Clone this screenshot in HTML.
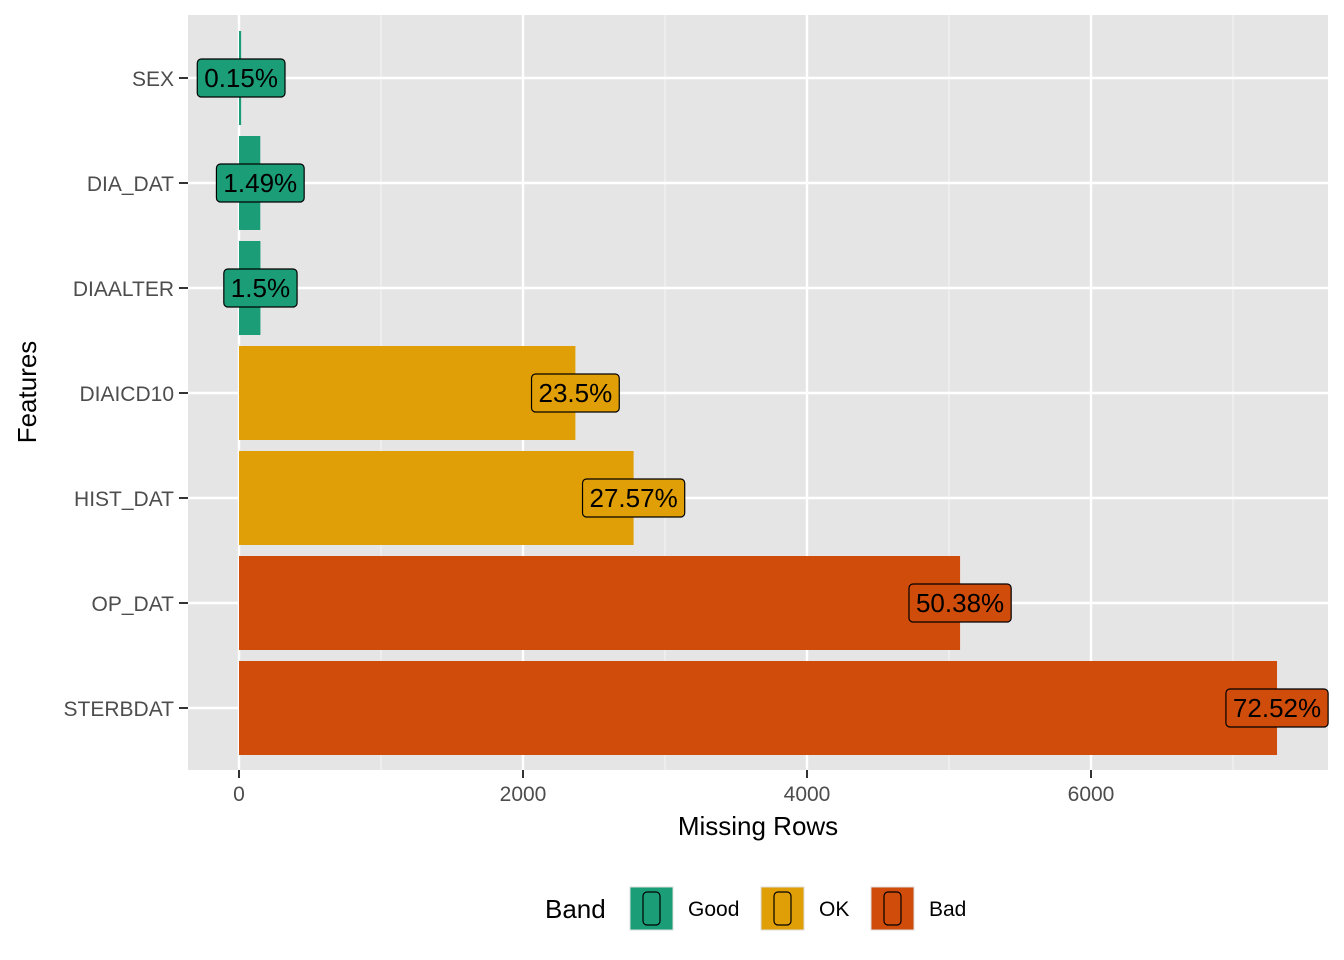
<!DOCTYPE html>
<html><head><meta charset="utf-8"><style>body{margin:0;background:#fff}svg{display:block;font-family:"Liberation Sans",Arial,sans-serif}</style></head>
<body>
<svg id="chart" width="1344" height="960"></svg>
<script>
const categories=["SEX","DIA_DAT","DIAALTER","DIAICD10","HIST_DAT","OP_DAT","STERBDAT"];
const values=[15,150,151,2369,2779,5078,7310];
const pctLabels=["0.15%","1.49%","1.5%","23.5%","27.57%","50.38%","72.52%"];
const bands=["Good","Good","Good","OK","OK","Bad","Bad"];
const xTicks=[0,2000,4000,6000];
const xMinor=[1000,3000,5000,7000];
const bandNames=["Good","OK","Bad"];
const colors={Good:"#1b9e77",OK:"#e09f06",Bad:"#d04c0b"};
const NS="http://www.w3.org/2000/svg";
const svg=document.getElementById("chart");
const L=188,R=1328,T=15,B=770;
const x=v=>239+v*0.142;
const y=i=>78+i*105;
function mk(t,a,p){const e=document.createElementNS(NS,t);for(const k in a)e.setAttribute(k,a[k]);(p||svg).appendChild(e);return e;}
const panel=mk("rect",{x:L,y:T,width:R-L,height:B-T,fill:"#e5e5e5"});


xMinor.forEach(v=>mk("line",{x1:x(v),x2:x(v),y1:T,y2:B,stroke:"#f2f2f2","stroke-width":1.2}));
xTicks.forEach(v=>{const g=mk("line",{x1:x(v),x2:x(v),y1:T,y2:B,stroke:"#fff","stroke-width":2.4});

});
categories.forEach((c,i)=>mk("line",{x1:L,x2:R,y1:y(i),y2:y(i),stroke:"#fff","stroke-width":2.4}));
categories.forEach((c,i)=>{
 const b=mk("rect",{x:x(0),y:y(i)-47,width:x(values[i])-x(0),height:94,fill:colors[bands[i]]});
 
 
});
categories.forEach((c,i)=>{
 const g=mk("g",{});
 
 
 const t=mk("text",{x:x(values[i]),y:y(i)+9,"text-anchor":"middle","font-size":26,fill:"#000"},g);
 t.textContent=pctLabels[i];
 const w=t.getComputedTextLength()+14;
 const r=mk("rect",{x:x(values[i])-w/2,y:y(i)-19,width:w,height:38,rx:4,fill:colors[bands[i]],stroke:"#000","stroke-width":1.2},g);
 g.insertBefore(r,t);
 const yl=mk("text",{x:174,y:y(i)+8,"text-anchor":"end","font-size":21,fill:"#4d4d4d"});
 yl.textContent=c;
 
 
 mk("line",{x1:179,x2:188,y1:y(i),y2:y(i),stroke:"#333","stroke-width":2});
});
xTicks.forEach(v=>{
 mk("line",{x1:x(v),x2:x(v),y1:B,y2:B+8,stroke:"#333","stroke-width":2});
 const t=mk("text",{x:x(v),y:B+31,"text-anchor":"middle","font-size":21,fill:"#4d4d4d"});
 t.textContent=v;
 
 
});
const xt=mk("text",{x:758,y:835,"text-anchor":"middle","font-size":26,fill:"#000"});xt.textContent="Missing Rows";


const yt=mk("text",{x:36,y:392,"text-anchor":"middle","font-size":26,fill:"#000",transform:"rotate(-90 36 392)"});yt.textContent="Features";


const lt=mk("text",{x:545,y:918,"font-size":26,fill:"#000"});lt.textContent="Band";


const lx=[630,761,871];
bandNames.forEach((n,k)=>{
 const g=mk("g",{});
 
 
 mk("rect",{x:lx[k],y:887,width:43,height:43,fill:colors[n],stroke:"#ddd"},g);
 mk("rect",{x:lx[k]+13,y:892,width:17,height:33,rx:4,fill:"none",stroke:"#000","stroke-width":1.2},g);
 const t=mk("text",{x:lx[k]+58,y:916,"font-size":21,fill:"#000"},g);t.textContent=n;
});
</script>
</body></html>
